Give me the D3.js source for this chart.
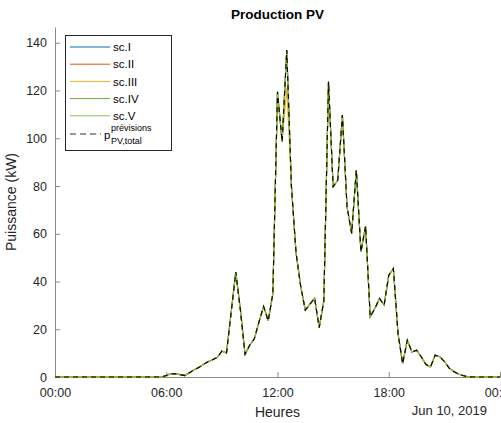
<!DOCTYPE html>
<html><head><meta charset="utf-8">
<script src="https://cdn.jsdelivr.net/npm/d3@7"></script>
<style>
body{margin:0;background:#fff}
svg{display:block}
text{font-family:"Liberation Sans",Arial,Helvetica,sans-serif;fill:#262626}
</style>
</head><body>
<svg id="c" width="501" height="423"></svg>
<script>
// ---- data (15-minute steps, 10 June 2019) ----
const dayStart = new Date(2019, 5, 10, 0, 0);
const dayEnd = new Date(2019, 5, 11, 0, 0);
const stepMinutes = 15;

const forecastValues = [
  0,0,0,0,0,0,0,0,0,0,0,0,0,0,0,0,0,0,0,0,0,0,0,0,
  0.6,1.4,1.3,1.0,0.6,1.8,3.0,4.0,5.2,6.4,7.2,8.2,10.8,10.1,27,44,28,9.5,13.3,16,23,29.6,23.5,35,
  119.5,98.5,137,80,52,38,28,30.5,33,20.7,32,123.7,79.7,82.5,109.7,71.3,60.1,86.7,52.4,63.2,25.2,28.7,32.9,30.1,
  42.6,45.4,18.2,5.6,15.4,10.5,11.2,8.5,5.3,4.2,9.1,8.5,6.5,3.8,2.3,1.3,0.6,0.1,0,0,0,0,0,0,0
];
const scIIIValues = [
  0,0,0,0,0,0,0,0,0,0,0,0,0,0,0,0,0,0,0,0,0,0,0,0,
  0.6,1.4,1.3,1.0,0.6,1.8,3.0,4.0,5.2,6.4,7.2,8.2,10.8,10.1,27,44,28,9.5,13.3,16,23,29.6,23.5,35,
  119.5,98.5,121,80,52,38,28,30.5,33,20.7,32,123.7,79.7,82.5,109.7,71.3,60.1,86.7,52.4,63.2,25.2,28.7,32.9,30.1,
  42.6,45.4,18.2,5.6,15.4,10.5,11.2,8.5,5.3,4.2,9.1,8.5,6.5,3.8,2.3,1.3,0.6,0.1,0,0,0,0,0,0,0
];
const scenarioNames = ["sc.I","sc.II","sc.III","sc.IV","sc.V"];
const scenarioColors = ["#0072BD","#D95319","#EDB120","#77AC30","#8CBF4E"];
const scenarioValues = [forecastValues, forecastValues, scIIIValues, forecastValues, forecastValues];
const yTicks = [0,20,40,60,80,100,120,140];
const xTickHours = [0,6,12,18,24];

// ---- layout ----
const svg = d3.select("#c");
const L = 55, R = 500, T = 27, B = 377;
const times = d3.timeMinute.every(stepMinutes).range(dayStart, new Date(+dayEnd + 1));
const x = d3.scaleTime().domain([dayStart, dayEnd]).range([L, R]);
const y = d3.scaleLinear().domain([0, 146.6]).range([B, T]);

// axes
const xAxis = d3.axisBottom(x)
  .tickValues(xTickHours.map(h => d3.timeHour.offset(dayStart, h)))
  .tickFormat(d3.timeFormat("%H:%M"))
  .tickSizeInner(-5).tickSizeOuter(0).tickPadding(11);
const gx = svg.append("g").attr("transform", `translate(0,${B})`).call(xAxis);
gx.select(".domain").attr("stroke", "#8a8a8a");
gx.selectAll(".tick line").attr("stroke", "#8a8a8a");
gx.selectAll("text").attr("font-size", 12.5).style("fill", "#262626").attr("font-family", null);

const yAxis = d3.axisLeft(y).tickValues(yTicks).tickSizeInner(-5).tickSizeOuter(0).tickPadding(8);
const gy = svg.append("g").attr("transform", `translate(${L},0)`).call(yAxis);
gy.select(".domain").attr("stroke", "#8a8a8a");
gy.selectAll(".tick line").attr("stroke", "#8a8a8a");
gy.selectAll("text").attr("font-size", 12.5).style("fill", "#262626").attr("font-family", null);

// lines
const line = vals => d3.line().x((d, i) => x(times[i])).y(d => y(d))(vals);
scenarioValues.forEach((vals, k) => {
  svg.append("path").attr("d", line(vals)).attr("fill", "none")
    .attr("stroke", scenarioColors[k]).attr("stroke-width", 1.1);
});
svg.append("path").attr("d", line(forecastValues)).attr("fill", "none")
  .attr("stroke", "#000").attr("stroke-width", 1.1).attr("stroke-dasharray", "5,4");

// title & labels
svg.append("text").attr("x", (L + R) / 2).attr("y", 19).attr("text-anchor", "middle")
  .attr("font-size", 13.5).attr("font-weight", "bold").style("fill", "#000").text("Production PV");
svg.append("text").attr("x", (L + R) / 2).attr("y", 417).attr("text-anchor", "middle")
  .attr("font-size", 14).text("Heures");
svg.append("text").attr("x", 487).attr("y", 415).attr("text-anchor", "end")
  .attr("font-size", 13).text("Jun 10, 2019");
svg.append("text").attr("transform", `translate(16,${(T + B) / 2}) rotate(-90)`)
  .attr("text-anchor", "middle").attr("font-size", 14).text("Puissance (kW)");

// legend
const lg = svg.append("g");
lg.append("rect").attr("x", 65.5).attr("y", 35.5).attr("width", 106).attr("height", 115)
  .attr("fill", "#fff").attr("stroke", "#262626").attr("stroke-width", 1);
scenarioNames.forEach((n, k) => {
  const yy = 47 + k * 17.2;
  lg.append("line").attr("x1", 70).attr("x2", 110).attr("y1", yy).attr("y2", yy)
    .attr("stroke", scenarioColors[k]).attr("stroke-width", 1);
  lg.append("text").attr("x", 113).attr("y", yy + 4.2).attr("font-size", 11.5).style("fill", "#000").text(n);
});
const py = 47 + 5 * 17.2 + 1;
lg.append("line").attr("x1", 70).attr("x2", 101).attr("y1", py).attr("y2", py)
  .attr("stroke", "#333").attr("stroke-width", 1).attr("stroke-dasharray", "6,4");
lg.append("text").attr("x", 104).attr("y", py + 4.5).attr("font-size", 11.5).style("fill", "#000").text("p");
lg.append("text").attr("x", 111).attr("y", py - 3).attr("font-size", 9).style("fill", "#000").text("prévisions");
lg.append("text").attr("x", 111).attr("y", py + 10).attr("font-size", 9).style("fill", "#000").text("PV,total");
</script>
</body></html>
